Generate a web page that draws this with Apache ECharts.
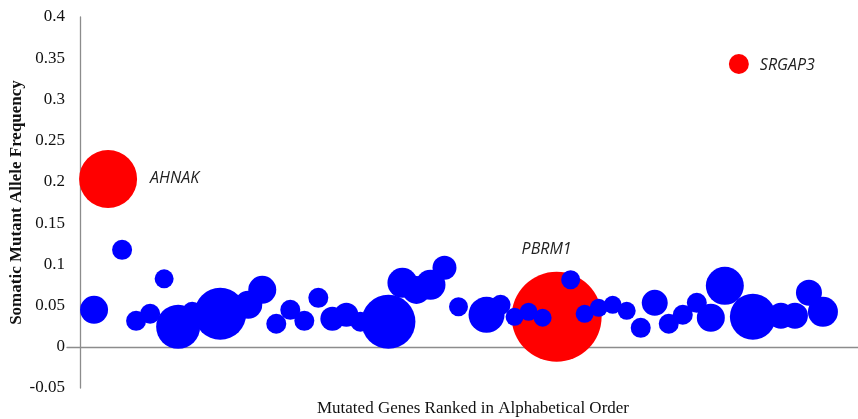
<!DOCTYPE html>
<html>
<head>
<meta charset="utf-8">
<script src="https://cdn.jsdelivr.net/npm/echarts@6/dist/echarts.min.js"></script>
<style>html,body{margin:0;padding:0;background:#fff;}#c{width:858px;height:419px;}</style>
</head>
<body>
<div id="c"></div>
<script>
// Gene rank (alphabetical position) of the non-highlighted genes
const blueRank = [1,3,4,5,6,7,8,10,12,13,14,15,16,17,18,19,20,22,23,24,25,26,27,29,30,31,32,33,35,36,37,38,39,40,41,42,43,44,45,46,48,50,51,52,53];
// Somatic mutant allele frequency
const blueFreq = [0.0448,0.1176,0.0315,0.040,0.0824,0.0242,0.0424,0.040,0.0509,0.0691,0.0279,0.0448,0.0315,0.0594,0.034,0.0388,0.0303,0.0303,0.0776,0.069,0.0752,0.0958,0.0485,0.0388,0.0509,0.0364,0.0424,0.0352,0.0812,0.040,0.0473,0.0509,0.0436,0.023,0.0533,0.0279,0.0388,0.0533,0.0352,0.0739,0.0364,0.0376,0.0376,0.0655,0.0424];
// Bubble weight (area units)
const blueWeight = [196,100,100,100,90,484,100,676,196,196,100,100,100,100,144,144,100,729,225,196,225,144,90,324,100,81,81,81,90,81,81,81,81,100,169,100,100,100,196,361,529,169,169,169,225];

// Highlighted genes
const hiGenes = ['AHNAK','PBRM1','SRGAP3'];
const hiRank = [2,34,47];
const hiFreq = [0.2036,0.0364,0.343];
const hiWeight = [841,2025,100];

const yTicks = ['-0.05','0','0.05','0.1','0.15','0.2','0.25','0.3','0.35','0.4'];

const chart = echarts.init(document.getElementById('c'));
const sz = v => 2 * Math.sqrt(v[2]);
const labelCfg = [
  {position:'right', distance:13, offset:[0,0]},
  {position:'top', distance:14, offset:[-10,0]},
  {position:'right', distance:11, offset:[0,1]}
];
chart.setOption({
  animation:false,
  backgroundColor:'#fff',
  grid:{left:67, right:0, top:17, bottom:31, containLabel:false, outerBoundsMode:'none'},
  xAxis:{
    type:'value', min:-0.93, max:55.5,
    axisLine:{show:true, onZero:true, lineStyle:{color:'#8c8c8c', width:1.3}},
    axisTick:{show:false}, axisLabel:{show:false}, splitLine:{show:false},
    name:'Mutated Genes Ranked in Alphabetical Order',
    nameLocation:'middle', nameGap:12,
    nameTextStyle:{fontFamily:'Liberation Serif', fontSize:17, color:'#111', padding:[0,0,0,21]}
  },
  yAxis:{
    type:'value', min:-0.05, max:0.4, interval:0.05,
    axisLine:{show:true, onZero:true, lineStyle:{color:'#8c8c8c', width:1.3}},
    axisTick:{show:false}, splitLine:{show:false},
    axisLabel:{margin:2, fontFamily:'Liberation Serif', fontSize:17, color:'#111',
      formatter:(v)=>{ const i = Math.round((v+0.05)/0.05); return yTicks[i] !== undefined ? yTicks[i] : ''; }},
    name:'Somatic Mutant Allele Frequency',
    nameLocation:'middle', nameGap:42, nameRotate:90, nameMoveOverlap:false,
    nameTextStyle:{fontFamily:'Liberation Serif', fontSize:17, fontWeight:'bold', color:'#111'}
  },
  series:[
    {
      type:'scatter', z:2,
      data: hiRank.map((r,i)=>({
        value:[r, hiFreq[i], hiWeight[i]],
        label:{show:true, formatter:hiGenes[i], position:labelCfg[i].position, distance:labelCfg[i].distance, offset:labelCfg[i].offset}
      })),
      symbolSize: sz,
      itemStyle:{color:'#ff0000', opacity:1},
      label:{fontFamily:'Open Sans', fontStyle:'italic', fontSize:16, color:'#222'},
      emphasis:{disabled:true}
    },
    {
      type:'scatter', z:3,
      data: blueRank.map((r,i)=>[r, blueFreq[i], blueWeight[i]]),
      symbolSize: sz,
      itemStyle:{color:'#0000ff', opacity:1},
      emphasis:{disabled:true}
    }
  ]
});
</script>
</body>
</html>
